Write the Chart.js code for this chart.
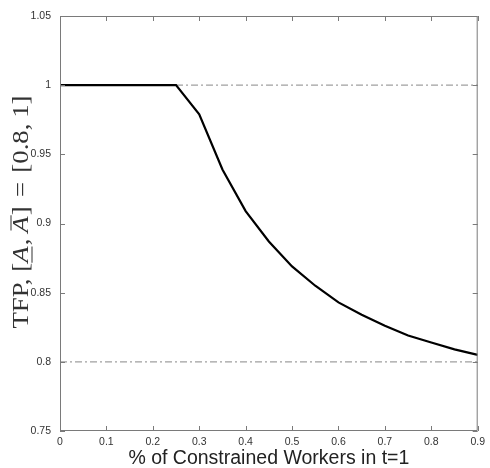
<!DOCTYPE html>
<html>
<head>
<meta charset="utf-8">
<script src="https://cdn.jsdelivr.net/npm/chart.js@4"></script>
<style>
  html, body { margin: 0; padding: 0; background: #fff; }
  canvas { display: block; }
</style>
</head>
<body>
<canvas id="tfpChart" width="490" height="468"></canvas>
<script>
// share of constrained workers and resulting TFP
const xValues = [0, 0.05, 0.1, 0.15, 0.2, 0.25, 0.3, 0.35, 0.4, 0.45, 0.5, 0.55, 0.6, 0.65, 0.7, 0.75, 0.8, 0.85, 0.9];
const tfpValues = [1, 1, 1, 1, 1, 1, 0.979, 0.939, 0.909, 0.887, 0.869, 0.855, 0.843, 0.834, 0.826, 0.819, 0.814, 0.809, 0.805];

// bounds [A_low, A_high]
const upperBound = { from: 0.25, to: 0.9, value: 1 };
const lowerBound = { from: 0, to: 0.9, value: 0.8 };

const xTicks = [0, 0.1, 0.2, 0.3, 0.4, 0.5, 0.6, 0.7, 0.8, 0.9];
const xTickLabels = ['0', '0.1', '0.2', '0.3', '0.4', '0.5', '0.6', '0.7', '0.8', '0.9'];
const yTicks = [0.75, 0.8, 0.85, 0.9, 0.95, 1, 1.05];
const yTickLabels = ['0.75', '0.8', '0.85', '0.9', '0.95', '1', '1.05'];

const xTitle = '% of Constrained Workers in t=1';

// matlab style box with inward ticks
const boxTicks = {
    id: 'boxTicks',
    afterDatasetsDraw(chart) {
        const { ctx, chartArea: a, scales } = chart;
        ctx.save();
        ctx.strokeStyle = '#7a7a7a';
        ctx.lineWidth = 1;
        ctx.beginPath();
        ctx.rect(a.left + 0.5, a.top + 0.5, a.right - a.left - 1, a.bottom - a.top - 1);
        ctx.stroke();
        ctx.beginPath();
        const len = 5;
        xTicks.forEach(v => {
            const px = Math.round(scales.x.getPixelForValue(v)) + 0.5;
            ctx.moveTo(px, a.bottom); ctx.lineTo(px, a.bottom - len);
            ctx.moveTo(px, a.top); ctx.lineTo(px, a.top + len);
        });
        yTicks.forEach(v => {
            const py = Math.round(scales.y.getPixelForValue(v)) + 0.5;
            ctx.moveTo(a.left, py); ctx.lineTo(a.left + len, py);
            ctx.moveTo(a.right, py); ctx.lineTo(a.right - len, py);
        });
        ctx.stroke();
        ctx.restore();
    }
};

// y label: TFP, [A_, A^] = [0.8, 1] in a latex-ish serif
const yLabel = {
    id: 'yLabel',
    afterDraw(chart) {
        const ctx = chart.ctx;
        const size = 23;
        const normal = size + 'px "Liberation Serif", "DejaVu Serif", serif';
        const italic = 'italic ' + normal;
        // gap = extra math spacing after the piece
        const parts = [
            { t: 'TFP,', f: normal, gap: 6 },
            { t: '[', f: normal, gap: 0 },
            { t: 'A', f: italic, under: true, gap: 1 },
            { t: ',', f: normal, gap: 5 },
            { t: 'A', f: italic, over: true, gap: 1 },
            { t: ']', f: normal, gap: 8 },
            { t: '=', f: normal, gap: 8 },
            { t: '[0.8,', f: normal, gap: 5 },
            { t: '1]', f: normal, gap: 0 }
        ];
        ctx.save();
        let total = 0;
        parts.forEach(p => { ctx.font = p.f; p.w = ctx.measureText(p.t).width; total += p.w + p.gap; });
        const target = 233;
        ctx.translate(22, 212);
        ctx.rotate(-Math.PI / 2);
        ctx.scale(target / total, 1);
        ctx.fillStyle = '#333';
        ctx.strokeStyle = '#333';
        ctx.lineWidth = 1;
        ctx.textBaseline = 'middle';
        let x = -total / 2;
        parts.forEach(p => {
            ctx.font = p.f;
            ctx.fillText(p.t, x, 0);
            if (p.under) {
                ctx.beginPath(); ctx.moveTo(x, 10); ctx.lineTo(x + p.w, 10); ctx.stroke();
            }
            if (p.over) {
                ctx.beginPath(); ctx.moveTo(x + 2, -11); ctx.lineTo(x + p.w + 1, -11); ctx.stroke();
            }
            x += p.w + p.gap;
        });
        ctx.restore();
    }
};

const dashDot = [7, 3, 2, 3];

new Chart(document.getElementById('tfpChart'), {
    type: 'line',
    data: {
        datasets: [{
            data: xValues.map((x, i) => ({ x: x, y: tfpValues[i] })),
            borderColor: '#000',
            borderWidth: 2.2,
            pointRadius: 0,
            tension: 0,
            order: 0
        }, {
            data: [{ x: upperBound.from, y: upperBound.value }, { x: upperBound.to, y: upperBound.value }],
            borderColor: '#a0a0a0',
            borderWidth: 1.2,
            borderDash: dashDot,
            pointRadius: 0,
            order: 1
        }, {
            data: [{ x: lowerBound.from, y: lowerBound.value }, { x: lowerBound.to, y: lowerBound.value }],
            borderColor: '#a0a0a0',
            borderWidth: 1.2,
            borderDash: dashDot,
            pointRadius: 0,
            order: 1
        }]
    },
    options: {
        responsive: false,
        animation: false,
        layout: { padding: { top: 16, right: 8, left: 0, bottom: 0 } },
        plugins: {
            legend: { display: false },
            tooltip: { enabled: false }
        },
        scales: {
            x: {
                type: 'linear',
                min: 0,
                max: 0.9,
                afterBuildTicks: s => { s.ticks = xTicks.map(v => ({ value: v })); },
                afterFit: s => { s.height = 37; },
                grid: { display: false, drawTicks: false },
                border: { display: false },
                ticks: {
                    padding: 5,
                    color: '#333',
                    font: { family: '"Liberation Sans", Arial, sans-serif', size: 10.5 },
                    maxRotation: 0,
                    callback: (v, i) => xTickLabels[i]
                },
                title: {
                    display: true,
                    text: xTitle,
                    color: '#222',
                    padding: { top: 0, bottom: -2 },
                    font: { family: '"Liberation Sans", Arial, sans-serif', size: 19.5 }
                }
            },
            y: {
                min: 0.75,
                max: 1.05,
                afterBuildTicks: s => { s.ticks = yTicks.map(v => ({ value: v })); },
                afterFit: s => { s.width = 60; },
                grid: { display: false, drawTicks: false },
                border: { display: false },
                ticks: {
                    padding: 9,
                    color: '#333',
                    font: { family: '"Liberation Sans", Arial, sans-serif', size: 10.5 },
                    callback: (v, i) => yTickLabels[i]
                }
            }
        }
    },
    plugins: [boxTicks, yLabel]
});
</script>
</body>
</html>
